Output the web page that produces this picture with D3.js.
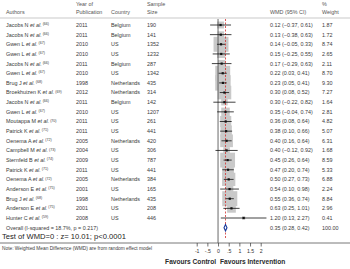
<!DOCTYPE html>
<html><head><meta charset="utf-8">
<script src="https://cdn.jsdelivr.net/npm/d3@7"></script>
<style>body{margin:0;background:#fff}svg{display:block;font-family:"Liberation Sans",Arial,sans-serif}</style>
</head><body><svg id="c" width="350" height="269"></svg>
<script>
const authors=["Jacobs N","Jacobs N","Gwen L","Gwen L","Jacobs N","Gwen L","Brug J","Broekhuizen K","Jacobs N","Gwen L","Moutappa M","Patrick K","Oenema A","Campbell M","Sternfeld B","Patrick K","Oenema A","Anderson E","Brug J","Anderson E","Hunter C"];
const refs=["66","66","67","67","66","67","68","69","66","67","70","71","72","73","74","71","72","75","68","75","59"];
const years=["2011","2011","2010","2010","2011","2010","1998","2012","2011","2010","2011","2011","2005","2004","2009","2011","2005","2001","1998","2001","2008"];
const countries=["Belgium","Belgium","US","US","Belgium","US","Netherlands","Netherlands","Belgium","US","US","US","Netherlands","US","US","US","Netherlands","US","Netherlands","US","US"];
const sizes=["190","141","1352","1232","287","1342","435","314","142","1207","261","441","420","306","787","441","384","165","435","208","446"];
const wmd=[0.12,0.13,0.14,0.15,0.17,0.22,0.23,0.30,0.30,0.35,0.36,0.38,0.40,0.40,0.45,0.47,0.50,0.54,0.55,0.63,1.20];
const lo=[-0.37,-0.38,-0.05,-0.25,-0.29,0.03,0.05,0.08,-0.22,-0.04,0.08,0.10,0.16,-0.12,0.26,0.20,0.27,0.10,0.36,0.25,0.13];
const hi=[0.61,0.63,0.33,0.55,0.63,0.41,0.41,0.52,0.82,0.74,0.64,0.66,0.64,0.92,0.64,0.74,0.73,0.98,0.74,1.01,2.27];
const weights=[1.87,1.72,8.74,2.65,2.11,8.70,9.30,7.27,1.64,2.81,4.82,5.07,6.31,1.68,8.59,5.33,6.88,2.24,8.84,2.96,0.41];
const overall={label:"Overall  (I-squared = 18.7%, p = 0.217)",est:0.35,lo:0.28,hi:0.42,w:"100.00"};
const xTicks=[-1,-0.5,0,0.5,1,1.5,2];
const xTickLabels=["-1","-.5","0",".5","1","1.5","2"];

const svg=d3.select("#c");
const fmt=d3.format(".2f");
const n=wmd.length;
const y=d3.scaleLinear().domain([0,n]).range([25,25+n*9.65]);
const x=d3.scaleLinear().domain([-1,2]).range([196.7,260.7]);
const side=d3.scaleSqrt().domain([0,10]).range([0,16]);
const txt="#3a3a3a", fs=5.4;
const axisY=243;

// header
const hdr=svg.append("g").attr("fill","#555").style("font-size",fs+"px");
hdr.append("text").attr("x",6).attr("y",14).text("Authors");
hdr.append("text").attr("x",76).attr("y",5.5).text("Year of");
hdr.append("text").attr("x",76).attr("y",14).text("Publication");
hdr.append("text").attr("x",111).attr("y",14).text("Country");
hdr.append("text").attr("x",147).attr("y",5.5).text("Sample");
hdr.append("text").attr("x",147).attr("y",14).text("Size");
hdr.append("text").attr("x",270).attr("y",14).text("WMD (95% CI)");
hdr.append("text").attr("x",322).attr("y",5.5).text("%");
hdr.append("text").attr("x",322).attr("y",14).text("Weight");
svg.append("line").attr("x1",0).attr("x2",350).attr("y1",18).attr("y2",18).attr("stroke","#bbb").attr("stroke-width",0.8);

// boxes
const rows=d3.range(n);
svg.append("g").selectAll("rect").data(rows).join("rect")
  .attr("x",i=>x(wmd[i])-side(weights[i])/2).attr("y",i=>y(i)-side(weights[i])/2)
  .attr("width",i=>side(weights[i])).attr("height",i=>side(weights[i])).attr("fill","#c9c9c9");

// zero line
svg.append("line").attr("x1",x(0)).attr("x2",x(0)).attr("y1",19).attr("y2",axisY).attr("stroke","#444").attr("stroke-width",0.8);
// overall dashed
svg.append("line").attr("x1",x(overall.est)).attr("x2",x(overall.est)).attr("y1",19).attr("y2",axisY-4)
  .attr("stroke","#d0302f").attr("stroke-width",0.8).attr("stroke-dasharray","2,1.5");

// CI lines and points
svg.append("g").selectAll("line").data(rows).join("line")
  .attr("x1",i=>x(lo[i])).attr("x2",i=>x(hi[i])).attr("y1",i=>y(i)).attr("y2",i=>y(i))
  .attr("stroke","#111").attr("stroke-width",0.8);
svg.append("g").selectAll("rect").data(rows).join("rect")
  .attr("x",i=>x(wmd[i])-1.1).attr("y",i=>y(i)-1.1).attr("width",2.2).attr("height",2.2).attr("fill","#111");

// overall diamond
const oy=y(n);
svg.append("path").attr("d",`M${x(overall.lo)},${oy}L${x(overall.est)},${oy-3.2}L${x(overall.hi)},${oy}L${x(overall.est)},${oy+3.2}Z`)
  .attr("fill","#fff").attr("stroke","#1a3b9c").attr("stroke-width",1.1);

// row texts
const g=svg.append("g").attr("fill",txt).style("font-size",fs+"px");
rows.forEach(i=>{
  const t=g.append("text").attr("x",6).attr("y",y(i)+1.9);
  t.append("tspan").text(authors[i]+" ");
  t.append("tspan").attr("font-style","italic").text("et al.");
  t.append("tspan").attr("dy",-1.8).style("font-size","3.6px").text(" ("+refs[i]+")");
  g.append("text").attr("x",76).attr("y",y(i)+1.9).text(years[i]);
  g.append("text").attr("x",111).attr("y",y(i)+1.9).text(countries[i]);
  g.append("text").attr("x",147).attr("y",y(i)+1.9).text(sizes[i]);
  g.append("text").attr("x",270).attr("y",y(i)+1.9).text(`${fmt(wmd[i])} (${fmt(lo[i])}, ${fmt(hi[i])})`);
  g.append("text").attr("x",322).attr("y",y(i)+1.9).text(fmt(weights[i]));
});
g.append("text").attr("x",6).attr("y",oy+1.9).text(overall.label);
g.append("text").attr("x",270).attr("y",oy+1.9).text(`${fmt(overall.est)} (${fmt(overall.lo)}, ${fmt(overall.hi)})`);
g.append("text").attr("x",322).attr("y",oy+1.9).text(overall.w);

svg.append("text").attr("x",2).attr("y",239).attr("fill","#222").style("font-size","7.6px").text("Test of WMD=0 : z= 10.01;  p<0.0001");

// axis
svg.append("line").attr("x1",0).attr("x2",350).attr("y1",axisY).attr("y2",axisY).attr("stroke","#555").attr("stroke-width",0.8);
const ax=svg.append("g").attr("transform",`translate(0,${axisY})`)
  .call(d3.axisBottom(x).tickValues(xTicks).tickFormat((d,i)=>xTickLabels[i]).tickSize(3.5).tickPadding(2.5));
ax.select(".domain").remove();
ax.selectAll("text").attr("fill","#333").style("font-size","5.2px").style("font-family","Liberation Sans,Arial,sans-serif");
ax.selectAll("line").attr("stroke","#333").attr("stroke-width",0.7);

svg.append("text").attr("x",2).attr("y",250).attr("fill",txt).style("font-size","4.8px").text("Note: Weighted Mean Difference (WMD) are from random effect model");
svg.append("text").attr("x",x(0)-2).attr("y",264).attr("text-anchor","end").attr("fill","#2a2a2a").style("font-size","6.6px").style("font-weight","bold").text("Favours Control");
svg.append("text").attr("x",x(0)+2).attr("y",264).attr("fill","#2a2a2a").style("font-size","6.6px").style("font-weight","bold").text("Favours Intervention");
</script></body></html>
